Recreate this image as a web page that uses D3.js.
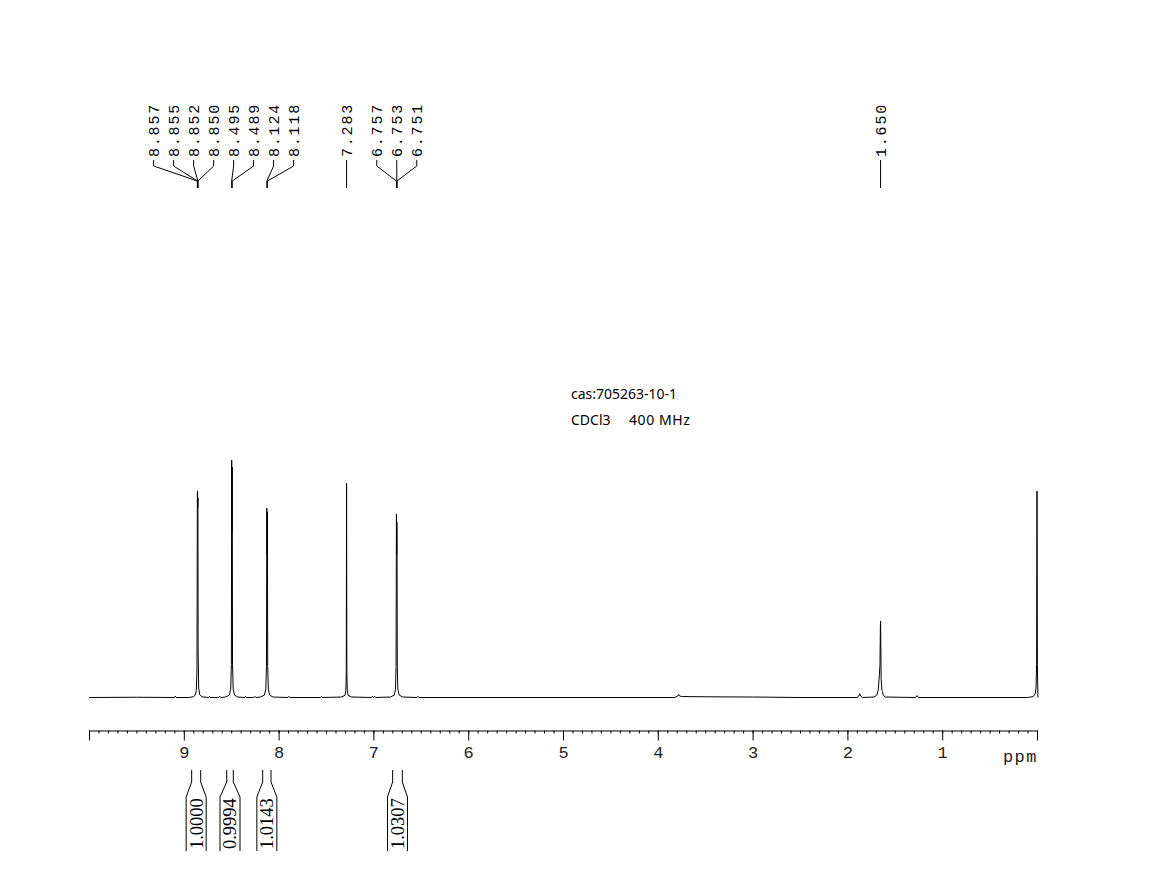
<!DOCTYPE html>
<html>
<head>
<meta charset="utf-8">
<script src="https://cdn.jsdelivr.net/npm/d3@7"></script>
<style>
  html, body { margin: 0; padding: 0; background: #fff; }
  svg { display: block; }
</style>
</head>
<body>
<svg id="chart" width="1161" height="893"></svg>
<script>
// ---------------- data ----------------
// spectrum points: [ppm, relative intensity]
const spectrum = [
  [10.00,0],[9.50,0.1],[9.10,0],[9.09,0.6],[9.08,0],
  [8.95,0],[8.90,0.3],[8.88,1.0],[8.868,3],[8.861,12],[8.857,86],[8.855,87],[8.853,80],[8.851,84],[8.849,20],[8.843,4],[8.832,1.2],[8.81,0.3],
  [8.74,0],[8.73,0.5],[8.72,0],[8.63,0],[8.62,0.5],[8.61,0],
  [8.56,0.2],[8.52,1],[8.505,3.5],[8.498,14],[8.495,100],[8.492,70],[8.489,97],[8.486,14],[8.479,3.5],[8.465,1],[8.43,0.2],
  [8.36,0],[8.35,0.5],[8.34,0],[8.26,0],[8.25,0.5],[8.24,0],
  [8.19,0.2],[8.15,1],[8.135,3.5],[8.128,13],[8.124,79.7],[8.121,60],[8.118,78],[8.115,13],[8.108,3.5],[8.094,1],[8.06,0.2],
  [7.90,0],[7.89,0.5],[7.88,0],[7.56,0],[7.55,0.4],[7.54,0],
  [7.34,0.2],[7.30,0.9],[7.29,3],[7.286,12],[7.283,90.2],[7.280,12],[7.276,3],[7.266,0.9],[7.23,0.2],
  [7.02,0],[7.01,0.5],[7.00,0],[6.985,0.5],[6.975,0],
  [6.82,0.2],[6.78,1],[6.767,3.5],[6.761,13],[6.757,77.3],[6.755,60],[6.753,74],[6.751,70],[6.748,13],[6.742,3.5],[6.728,1],[6.69,0.2],
  [6.54,0],[6.53,0.5],[6.52,0],
  [3.82,0],[3.79,0.6],[3.78,1.3],[3.77,0.6],[3.74,0.4],[3.50,0.3],[3.00,0.2],[2.50,0],
  [1.90,0],[1.88,0.6],[1.87,1.6],[1.86,0.6],[1.84,0],
  [1.72,0.2],[1.69,1],[1.675,3],[1.663,9.5],[1.656,14],[1.652,30],[1.650,32.2],[1.648,25],[1.644,8],[1.636,3],[1.630,2.5],[1.622,1],[1.60,0.2],
  [1.28,0],[1.265,0.8],[1.25,0],
  [0.10,0],[0.04,0.4],[0.02,1.5],[0.01,4],[0.004,14],[0.000,86.9],[-0.004,14],[-0.01,0]
];

// peak pick labels
const peakLabels = ["8.857","8.855","8.852","8.850","8.495","8.489","8.124","8.118","7.283","6.757","6.753","6.751","1.650"];

// integrations: [start ppm, end ppm], value
const integralRanges = [[8.917,8.822],[8.547,8.478],[8.168,8.080],[6.797,6.695]];
const integralValues = ["1.0000","0.9994","1.0143","1.0307"];

// axis
const majorTicks = [1,2,3,4,5,6,7,8,9];
const majorTickLabels = ["1","2","3","4","5","6","7","8","9"];
const axisUnit = "ppm";
const titleLine1 = "cas:705263-10-1";
const titleLine2 = ["CDCl3   ", "400 MHz"];

// ---------------- drawing ----------------
const svg = d3.select("#chart");
const x = d3.scaleLinear().domain([10, 0]).range([89, 1037]);
const y = d3.scaleLinear().domain([0, 100]).range([697.5, 460]);

// spectrum
svg.append("path")
  .datum(spectrum)
  .attr("fill", "none")
  .attr("stroke", "#000")
  .attr("stroke-width", 1)
  .attr("stroke-linejoin", "round")
  .attr("d", d3.line().x(d => x(d[0])).y(d => y(d[1])));

// axis
const axisY = 730.5;
const minorVals = d3.range(0, 101).map(i => i / 10);
svg.append("g")
  .attr("transform", `translate(0,${axisY})`)
  .call(d3.axisBottom(x).tickValues(minorVals).tickSize(3).tickSizeOuter(0).tickFormat(""))
  .call(g => g.selectAll("line, path").attr("stroke", "#000"));
const majG = svg.append("g")
  .attr("transform", `translate(0,${axisY})`)
  .call(d3.axisBottom(x).tickValues([0].concat(majorTicks).concat([10])).tickSize(10).tickSizeOuter(0)
        .tickFormat(d => { const i = majorTicks.indexOf(d); return i >= 0 ? majorTickLabels[i] : ""; })
        .tickPadding(5));
majG.select(".domain").remove();
majG.selectAll("line").attr("stroke", "#000");
majG.selectAll("text")
  .attr("font-family", "'Liberation Mono', 'DejaVu Sans Mono', monospace")
  .attr("font-size", 17)
  .attr("fill", "#222");
svg.append("text")
  .attr("x", 1038).attr("y", axisY + 31)
  .attr("text-anchor", "end")
  .attr("font-family", "'Liberation Mono', 'DejaVu Sans Mono', monospace")
  .attr("font-size", 17)
  .attr("letter-spacing", 1.5)
  .attr("fill", "#222")
  .text(axisUnit);

// peak labels layout: cluster overlapping labels, center at mean of targets
const spacing = 20;
const targets = peakLabels.map(s => x(+s));
let clusters = targets.map((t, i) => ({ idx: [i], center: t }));
let changed = true;
while (changed) {
  changed = false;
  for (let k = 0; k < clusters.length - 1; k++) {
    const a = clusters[k], b = clusters[k + 1];
    const aRight = a.center + spacing * (a.idx.length - 1) / 2;
    const bLeft = b.center - spacing * (b.idx.length - 1) / 2;
    if (bLeft - aRight < spacing) {
      const idx = a.idx.concat(b.idx);
      const center = d3.mean(idx, i => targets[i]);
      clusters.splice(k, 2, { idx, center });
      changed = true;
      break;
    }
  }
}
const labelX = new Array(peakLabels.length);
clusters.forEach(c => c.idx.forEach((i, j) => {
  labelX[i] = c.center + spacing * (j - (c.idx.length - 1) / 2);
}));

const lg = svg.append("g");
peakLabels.forEach((s, i) => {
  const lx = labelX[i], px = targets[i];
  lg.append("path")
    .attr("d", `M${lx},160 V166 L${px},181 V188`)
    .attr("fill", "none").attr("stroke", "#000").attr("stroke-width", 1);
  lg.append("text")
    .attr("transform", `translate(${lx},157) rotate(-90)`)
    .attr("dy", "0.36em")
    .attr("font-family", "'Liberation Mono', 'DejaVu Sans Mono', monospace")
    .attr("font-size", 15)
    .attr("letter-spacing", 1.8)
    .attr("fill", "#000")
    .text(s);
});

// integrals
const ig = svg.append("g");
integralRanges.forEach((r, i) => {
  const x1 = x(r[0]), x2 = x(r[1]);
  const cx = (x1 + x2) / 2;
  const hw = 10;
  ig.append("path")
    .attr("d", `M${x1},770 V782 L${cx - hw},797 V851 M${x2},770 V782 L${cx + hw},797 V851`)
    .attr("fill", "none").attr("stroke", "#000").attr("stroke-width", 1);
  ig.append("text")
    .attr("transform", `translate(${cx},849) rotate(-90)`)
    .attr("dy", "0.35em")
    .attr("font-family", "'Liberation Serif', 'DejaVu Serif', serif")
    .attr("font-size", 18.5)
    .attr("fill", "#000")
    .text(integralValues[i]);
});

// title
const tfont = "'Noto Sans', 'Open Sans', sans-serif";
svg.append("text")
  .attr("x", 571).attr("y", 399)
  .attr("font-family", tfont).attr("font-size", 14).attr("fill", "#000")
  .text(titleLine1);
const t2 = svg.append("text")
  .attr("x", 571).attr("y", 425)
  .attr("font-family", tfont).attr("font-size", 14).attr("fill", "#000")
  .style("white-space", "pre");
t2.append("tspan").attr("word-spacing", 2.5).text(titleLine2[0]);
t2.append("tspan").attr("letter-spacing", 0.6).text(titleLine2[1]);
</script>
</body>
</html>
